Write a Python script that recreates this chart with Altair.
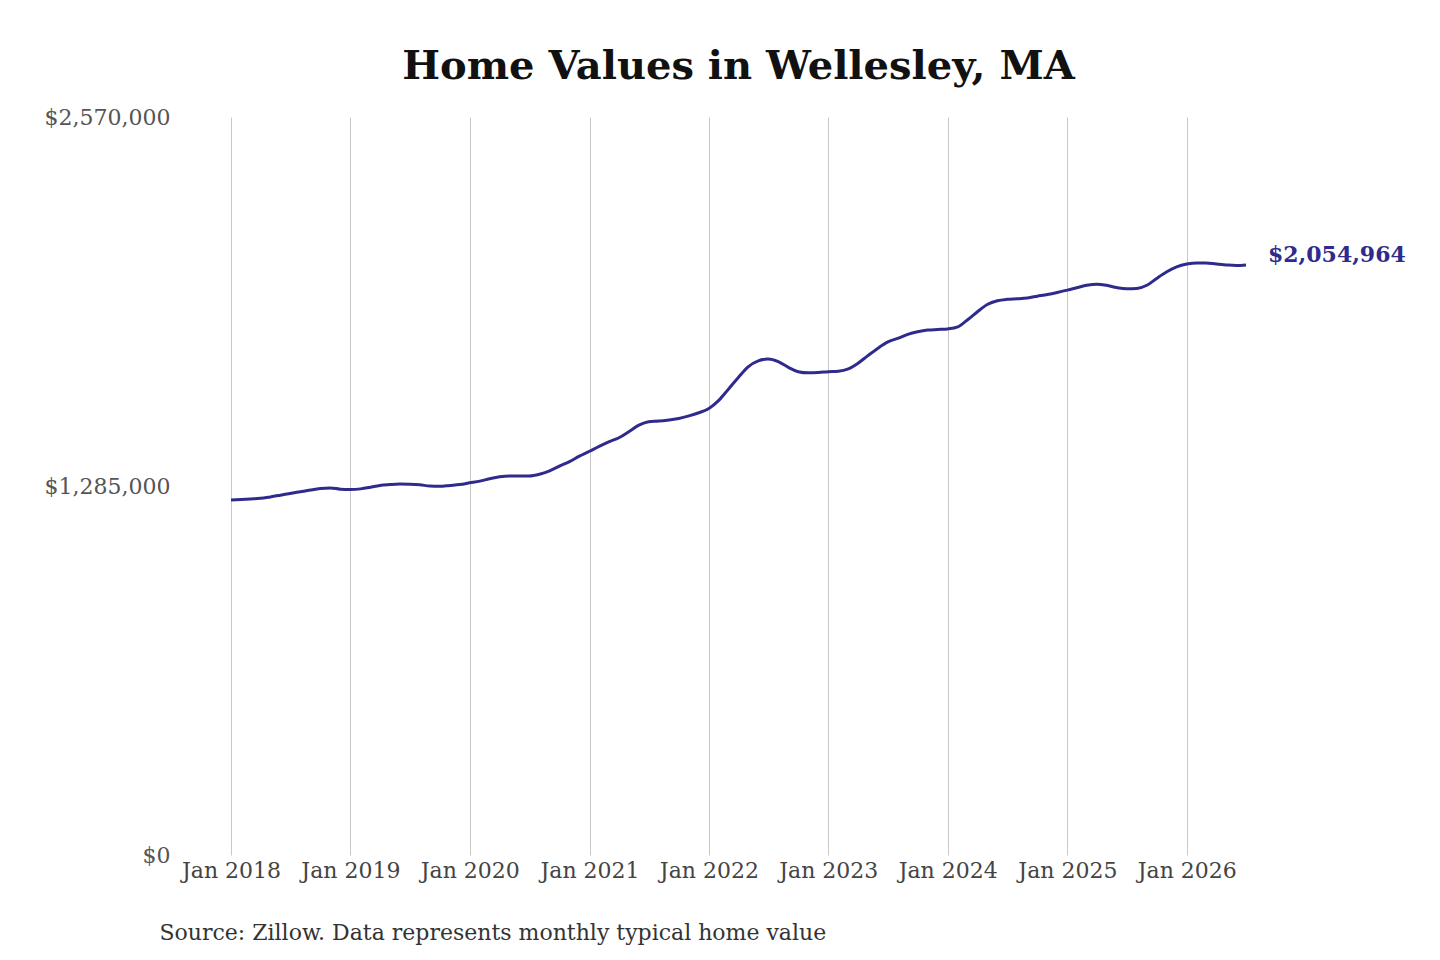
import altair as alt
import pandas as pd

# Monthly typical home values, Jan 2018 .. Jul 2026
values_2018 = [1236000, 1238000, 1240000, 1242000, 1247000, 1253000, 1259000, 1265000, 1271000, 1276000, 1278000, 1274000]
values_2019 = [1273000, 1275000, 1280000, 1287000, 1290000, 1292000, 1291000, 1289000, 1285000, 1284000, 1287000, 1290000]
values_2020 = [1296000, 1302000, 1310000, 1317000, 1320000, 1320000, 1320000, 1326000, 1338000, 1354000, 1370000, 1389000]
values_2021 = [1406000, 1424000, 1439000, 1453000, 1474000, 1497000, 1509000, 1511000, 1515000, 1520000, 1529000, 1540000]
values_2022 = [1555000, 1584000, 1621000, 1663000, 1700000, 1721000, 1727000, 1718000, 1698000, 1683000, 1679000, 1680000]
values_2023 = [1683000, 1685000, 1692000, 1712000, 1738000, 1764000, 1786000, 1799000, 1813000, 1822000, 1828000, 1830000]
values_2024 = [1832000, 1839000, 1863000, 1892000, 1917000, 1930000, 1935000, 1937000, 1940000, 1946000, 1952000, 1959000]
values_2025 = [1967000, 1976000, 1984000, 1988000, 1984000, 1976000, 1972000, 1973000, 1984000, 2008000, 2031000, 2048000]
values_2026 = [2058000, 2062000, 2062000, 2058000, 2055000, 2053000, 2054964]

years = [2018, 2019, 2020, 2021, 2022, 2023, 2024, 2025, 2026]
yearly = [values_2018, values_2019, values_2020, values_2021, values_2022,
          values_2023, values_2024, values_2025, values_2026]

y_ticks = [0, 1285000, 2570000]

TITLE = "Home Values in Wellesley, MA"
SOURCE = "Source: Zillow. Data represents monthly typical home value"

rows = []
for yr, vals in zip(years, yearly):
    for i, v in enumerate(vals):
        rows.append({"date": f"{yr}/{i + 1:02d}/01", "value": v})
df = pd.DataFrame(rows)
df["last"] = False
df.loc[df.index[-1], "last"] = True

LINE = "#2e2b8c"
FONT = "DejaVu Serif"

x_enc = alt.X(
    "date:T",
    scale=alt.Scale(domain=["2018/01/01", "2026/07/01"], nice=False),
    axis=alt.Axis(
        format="%b %Y",
        tickCount={"interval": "year", "step": 1},
        grid=True,
        gridColor="#c8c8c8",
        gridWidth=1,
        ticks=False,
        domain=False,
        labelFlush=False,
        labelOverlap=False,
        labelPadding=5,
        labelFontSize=22,
        labelFont=FONT,
        labelColor="#444444",
        labelAngle=0,
        title=SOURCE,
        titleFont=FONT,
        titleFontSize=22,
        titleFontWeight="normal",
        titleColor="#333333",
        titleAlign="left",
        titleAnchor="start",
        titleBaseline="alphabetic",
        titleX=-72,
        titleY=84,
    ),
)
y_enc = alt.Y(
    "value:Q",
    scale=alt.Scale(domain=[0, 2570000], nice=False),
    axis=alt.Axis(
        values=y_ticks,
        format="$,.0f",
        grid=False,
        ticks=False,
        domain=False,
        labelPadding=61,
        labelFontSize=22,
        labelFont=FONT,
        labelColor="#555555",
        title=None,
    ),
)

line = alt.Chart(df).mark_line(
    color=LINE, strokeWidth=3, interpolate="monotone"
).encode(x=x_enc, y=y_enc)

label = alt.Chart(df).transform_filter(alt.datum.last).mark_text(
    align="left", baseline="middle", dx=22, dy=-10,
    font=FONT, fontSize=22, fontWeight="bold", color=LINE,
).encode(
    x="date:T", y="value:Q",
    text=alt.Text("value:Q", format="$,.0f"),
)

chart = alt.layer(line, label).properties(
    width=1015,
    height=738,
    padding={"left": 223, "top": 109, "right": 180, "bottom": 90},
    autosize="none",
    background="white",
    title=alt.TitleParams(
        text=TITLE,
        font=FONT,
        fontSize=40,
        fontWeight="bold",
        color="#111111",
        anchor="middle",
        baseline="alphabetic",
        offset=-13,
    ),
).configure_view(stroke=None)

chart.save("out.html", embed_options={"renderer": "svg", "actions": False})
